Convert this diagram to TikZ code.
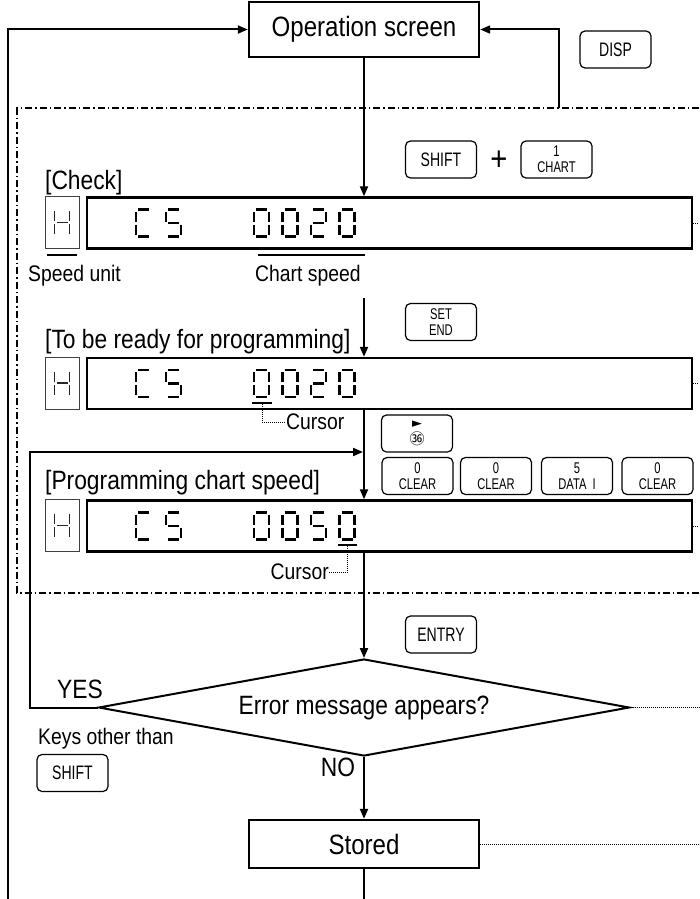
\documentclass[tikz,border=0pt]{standalone}
\usepackage{fontspec}
\setmainfont{Liberation Sans}[FakeStretch=0.86]
\newfontfamily\keyfont{Liberation Sans}[FakeStretch=0.72]
\newfontfamily\symfont{DejaVu Sans}
\newfontfamily\cjkfont{Noto Sans CJK JP}
\usetikzlibrary{arrows.meta,shapes.geometric}

\tikzset{
 box/.style={draw, line width=2.4pt, rectangle, minimum width=230pt, inner sep=0pt, font=\fontsize{28}{30}\selectfont},
 lcd/.style={draw, line width=2.4pt, minimum width=605pt, minimum height=51pt, inner sep=0pt},
 hbox/.style={draw=black!75, line width=0.9pt, minimum width=34pt, minimum height=52pt, inner sep=0pt},
 conn/.style={line width=2pt},
 arr/.style={conn, -{Triangle[length=10pt,width=8pt]}},
 keycap/.style={draw, line width=1.2pt, rounded corners=5pt, minimum width=71pt, minimum height=37pt, inner sep=0pt, align=center, font=\keyfont\fontsize{15.5}{16}\selectfont},
 keyone/.style={keycap, font=\keyfont\fontsize{19.5}{20}\selectfont},
 dashdot/.style={line width=1.3pt, dash pattern=on 7pt off 3pt on 1.5pt off 3pt},
 dotline/.style={line width=0.8pt, dash pattern=on 1pt off 1pt},
 lbl/.style={inner sep=0pt, font=\fontsize{26.5}{30}\selectfont},
 small/.style={inner sep=0pt, font=\fontsize{22.5}{25}\selectfont},
 segline/.style={line width=2.6pt},
 hseg/.style={line width=1.7pt, black!85},
 uline/.style={line width=2.2pt},
}

% seven segment pieces (w=15, h=27)
\newcommand\sevA{\draw[segline] (2,0) -- (13,0);}
\newcommand\sevB{\draw[segline] (15,2) -- (15,12);}
\newcommand\sevC{\draw[segline] (15,15) -- (15,25);}
\newcommand\sevD{\draw[segline] (2,27) -- (13,27);}
\newcommand\sevE{\draw[segline] (0,15) -- (0,25);}
\newcommand\sevF{\draw[segline] (0,2) -- (0,12);}
\newcommand\sevG{\draw[segline] (2,13.5) -- (13,13.5);}
\newcommand\sevseg[3]{\begin{scope}[shift={(#1,#2)}]\foreach \s in {#3}{\csname sev\s\endcsname}\end{scope}}
\newcommand\chC[2]{\sevseg{#1}{#2}{A,F,E,D}}
\newcommand\chS[2]{\sevseg{#1}{#2}{A,F,G,C,D}}
\newcommand\chZero[2]{\sevseg{#1}{#2}{A,B,C,D,E,F}}
\newcommand\chTwo[2]{\sevseg{#1}{#2}{A,B,G,E,D}}
\newcommand\chH[2]{\begin{scope}[shift={(#1,#2)}, segline/.style={hseg}]\foreach \s in {F,E,B,C,G}{\csname sev\s\endcsname}\end{scope}}

\begin{document}
\begin{tikzpicture}[x=1pt,y=-1pt]
\useasboundingbox (0,0) rectangle (699,899);

% frame
\draw[dashdot] (699,108) -- (17,108) -- (17,593) -- (699,593);

% main boxes
\node[box, minimum height=55pt] (op) at (364,29.5) {Operation screen};
\node[box, minimum height=48pt] (stored) at (364,844) {Stored};
\node[draw, diamond, aspect=5.47, minimum width=531pt, minimum height=97pt, inner sep=0pt, line width=2pt, lbl] (dec) at (364,707.5) {Error message appears?};

% LCDs
\node[lcd] (lcd1) at (389.5,223) {};
\node[lcd] (lcd2) at (389.5,383.5) {};
\node[lcd] (lcd3) at (389.5,526) {};
\node[hbox] (h1) at (62,222.5) {};
\node[hbox] (h2) at (62,383) {};
\node[hbox] (h3) at (62,525.5) {};

% digits
\chH{54.5}{209}
\chH{54.5}{369.5}
\chH{54.5}{512}
\foreach \yy in {209.5,370,512.5}{
  \chC{136}{\yy}
  \chS{166}{\yy}
}
\chZero{254}{209.5}\chZero{282.5}{209.5}\chTwo{311}{209.5}\chZero{339.5}{209.5}
\chZero{254}{370}\chZero{282.5}{370}\chTwo{311}{370}\chZero{339.5}{370}
\chZero{254}{512.5}\chZero{282.5}{512.5}\chS{311}{512.5}\chZero{339.5}{512.5}

% labels
\node[lbl, anchor=base west] (chk) at (45,189) {[Check]};
\node[lbl, anchor=base west] (rdy) at (45,348) {[To be ready for programming]};
\node[lbl, anchor=base west] (prg) at (45,489) {[Programming chart speed]};
\node[small, anchor=west] (su) at (28,276) {Speed unit};
\node[small, anchor=west] (cs) at (255,276) {Chart speed};
\draw[uline] (47,255) -- (77,255);
\draw[uline] (258,255) -- (365,255);
\node[small, anchor=west] (kot) at (38,739) {Keys other than};
\node[lbl] (yes) at (80,689) {YES};
\node[lbl] (no) at (338,767) {NO};

% cursors
\draw[uline] (252,403) -- (272,403);
\draw[uline] (338,545) -- (357,545);
\node[small, anchor=west] (cur2) at (286,422) {Cursor};
\node[small, anchor=east] (cur3) at (329,572) {Cursor};
\coordinate (u2) at (262,404);
\coordinate (u3) at (347.5,546);
\draw[dotline] (u2) |- (cur2.west);
\draw[dotline] (u3) |- (cur3.east);

% keys
\node[keyone] (disp) at (615.5,49.5) {DISP};
\node[keyone] (shift1) at (441,159.5) {SHIFT};
\node[lbl, font=\fontsize{34}{34}\selectfont] (plus) at (499,161) {+};
\node[keycap] (chart) at (556.5,159.5) {1\\CHART};
\node[keycap] (setend) at (441,322) {SET\\END};
\node[keycap] (rkey) at (417,433.5) {{\symfont\fontsize{13}{13}\selectfont ►}\\[1pt]{\cjkfont\fontsize{15}{15}\selectfont ㊱}};
\node[keycap] (k1) at (417.5,476) {0\\CLEAR};
\node[keycap] (k2) at (496,476) {0\\CLEAR};
\node[keycap] (k3) at (577,476) {5\\DATA\hspace{3pt} I};
\node[keycap] (k4) at (657.5,476) {0\\CLEAR};
\node[keyone] (entry) at (441,634.5) {ENTRY};
\node[keyone] (shift2) at (72.5,773) {SHIFT};

% connectors
\coordinate (bl) at (8,899);
\coordinate (dispc) at (559,108);
\coordinate (c2) at (364,298);
\coordinate (loopc) at (30,452);
\coordinate (bc) at (364,899);
\coordinate (R) at (699,0);
\draw[arr] (bl) |- (op.west);
\draw[arr] (dispc) |- (op.east);
\draw[arr] (op.south) -- (op.south |- lcd1.north);
\draw[arr] (c2) -- (c2 |- lcd2.north);
\draw[arr] (op.south |- lcd2.south) -- (op.south |- lcd3.north);
\draw[arr, shorten >=1pt] (dec.west) -| (loopc) -- (loopc -| op.south);
\draw[arr] (op.south |- lcd3.south) -- (dec.north);
\draw[arr] (dec.south) -- (stored.north);
\draw[conn] (stored.south) -- (bc);
\foreach \n in {lcd1,lcd2,lcd3,dec,stored}{
  \draw[dotline] (\n.east) -- (\n.east -| R);
}
\end{tikzpicture}
\end{document}
